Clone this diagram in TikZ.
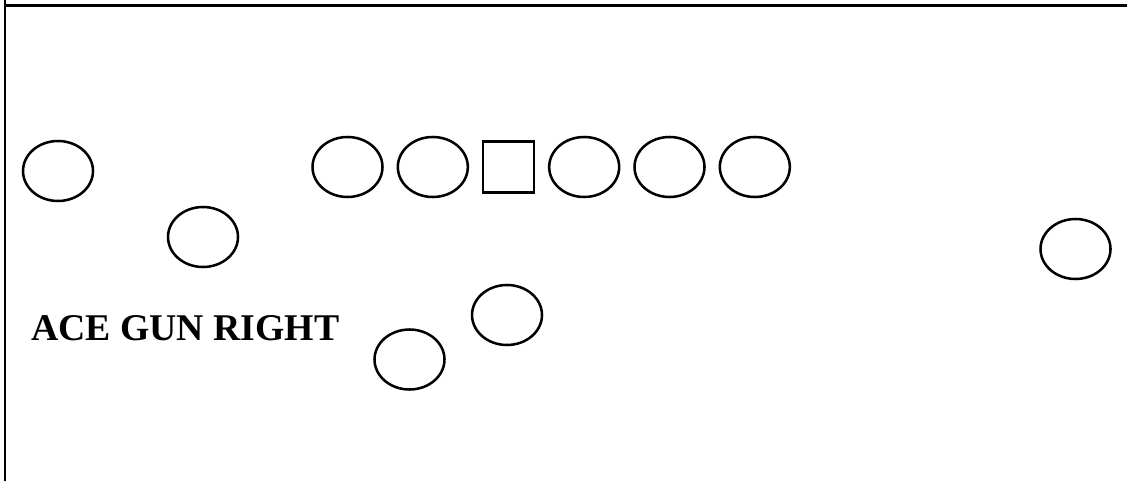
\documentclass[tikz,border=0pt]{standalone}
\usepackage{fontspec}
\setmainfont{Liberation Serif}
\usetikzlibrary{positioning,shapes.geometric}

\tikzset{
  player/.style={draw, ellipse, line width=1.9pt, minimum width=52.5pt,
                 minimum height=45pt, inner sep=0pt, outer sep=0pt},
  snapper/.style={draw, rectangle, line width=1.9pt, minimum size=38pt,
                  inner sep=0pt, outer sep=0pt}
}

\begin{document}
\begin{tikzpicture}[x=0.75pt, y=-0.75pt, node distance=11.5pt]
    \useasboundingbox (0,0) rectangle (1127,481);
    % frame
    \draw[line width=2.1pt] (5,0) -- (5,481);
    \draw[line width=2.1pt] (4,5.3) -- (1127,5.3);
    % line of scrimmage
    \node[snapper] (c) at (508.5,167) {};
    \node[player, left=of c] (lg) {};
    \node[player, left=of lg] (lt) {};
    \node[player, right=of c] (rg) {};
    \node[player, right=of rg] (rt) {};
    \node[player, right=of rt] (te) {};
    % receivers and backs
    \node[player] (wrl) at (58,171) {};
    \node[player] (slot) at (203,237) {};
    \node[player] (wrr) at (1075.5,249) {};
    \node[player] (qb) at (507,315) {};
    \node[player] (rb) at (409.5,359.5) {};
    \node[anchor=base west, inner sep=0pt] (title) at (31,340)
      {\fontsize{28.3}{34}\selectfont\bfseries ACE GUN RIGHT};
  \end{tikzpicture}
\end{document}
